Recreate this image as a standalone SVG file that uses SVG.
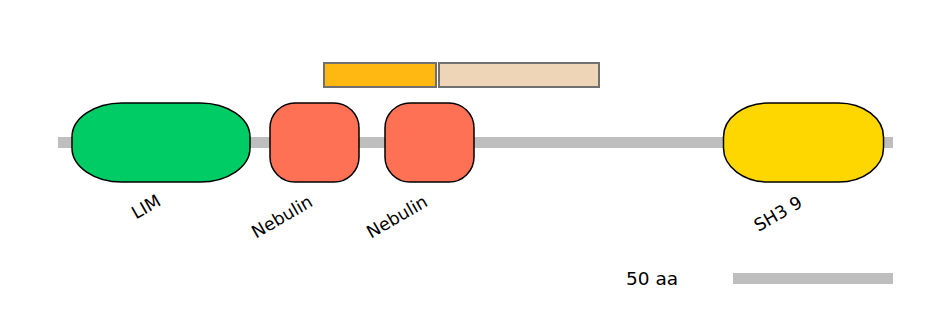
<svg xmlns="http://www.w3.org/2000/svg" width="944" height="330" viewBox="0 0 944 330">
<style>
.dom{stroke:#000;stroke-width:1.5}
.lbl{font-family:"DejaVu Sans",sans-serif;font-size:17.5px;fill:#000;text-anchor:middle}
.bar{stroke:#707070;stroke-width:2}
</style>
<rect width="944" height="330" fill="#fff"/>
<g id="backbone"><rect x="58" y="137" width="835" height="11" fill="#bebebe"/></g>
<g id="region1"><rect class="bar" x="324" y="63" width="112" height="24" fill="#ffb812"/></g>
<g id="region2"><rect class="bar" x="439" y="63" width="160" height="24" fill="#eed5b7"/></g>
<g id="lim"><rect class="dom" x="72" y="103" width="178" height="79" rx="50" ry="34" fill="#00cc66"/>
<text class="lbl" transform="translate(149,212) rotate(-30)">LIM</text></g>
<g id="nebulin1"><rect class="dom" x="270" y="103" width="89" height="79" rx="25" ry="25" fill="#ff7155"/>
<text class="lbl" transform="translate(285,222) rotate(-30)">Nebulin</text></g>
<g id="nebulin2"><rect class="dom" x="385" y="103" width="89" height="79" rx="25" ry="25" fill="#ff7155"/>
<text class="lbl" transform="translate(400,222) rotate(-30)">Nebulin</text></g>
<g id="sh3"><rect class="dom" x="723.5" y="103" width="160" height="79" rx="45" ry="34" fill="#ffd700"/>
<text class="lbl" transform="translate(781,219) rotate(-30)">SH3 9</text></g>
<g id="scale"><rect x="733" y="273" width="160" height="11" fill="#bebebe"/>
<text x="626" y="285" style="font-family:'DejaVu Sans',sans-serif;font-size:18.5px;fill:#000">50 aa</text></g>
<g id="connectors"></g>
</svg>
